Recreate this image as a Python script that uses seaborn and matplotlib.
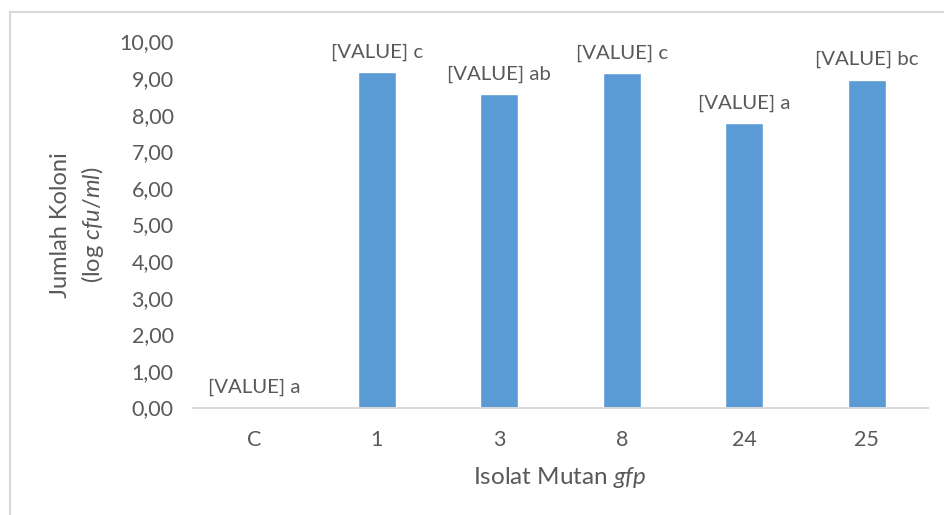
import pandas as pd
import seaborn as sns
import matplotlib.pyplot as plt
from matplotlib.patches import Rectangle
from matplotlib.ticker import FuncFormatter

# data
isolat = ["C", "1", "3", "8", "24", "25"]
koloni = [0.0, 9.17, 8.57, 9.13, 7.78, 8.96]
notasi = ["a", "c", "ab", "c", "a", "bc"]

df = pd.DataFrame({"isolat": isolat, "koloni": koloni})

sns.set_style("white")
plt.rcParams["font.family"] = ["Lato", "DejaVu Sans"]
plt.rcParams["mathtext.fontset"] = "custom"
plt.rcParams["mathtext.it"] = "Lato:italic"
plt.rcParams["mathtext.rm"] = "Lato"

grey = "#595959"

fig = plt.figure(figsize=(9.44, 5.15), dpi=100)
ax = fig.add_axes([193 / 944, 1 - 407.5 / 515, 735 / 944, 366 / 515])

sns.barplot(data=df, x="isolat", y="koloni", order=isolat, color="#5B9BD5",
            width=0.31, saturation=1, ax=ax)

for i, (v, n) in enumerate(zip(koloni, notasi)):
    ax.annotate(f"[VALUE] {n}", (i, v), xytext=(0, 8), textcoords="offset points",
                ha="center", va="bottom", fontsize=14.7, color=grey)

ax.set_ylim(0, 10)
ax.set_xlim(-0.5, 5.5)
ax.set_yticks(range(0, 11))
ax.yaxis.set_major_formatter(FuncFormatter(lambda v, p: f"{v:.2f}".replace(".", ",")))
ax.tick_params(axis="both", length=0, labelsize=15.5, labelcolor=grey)
ax.tick_params(axis="x", pad=16)
ax.tick_params(axis="y", pad=14)

for s in ["top", "right", "left"]:
    ax.spines[s].set_visible(False)
ax.spines["bottom"].set_color("#d9d9d9")
ax.spines["bottom"].set_linewidth(1.4)

ax.set_xlabel("")
ax.set_ylabel("")
fig.text(560 / 944, 1 - 477 / 515, r"Isolat Mutan $\mathit{gfp}$", ha="center", va="center",
         fontsize=17.5, color=grey)
fig.text(61 / 944, 1 - 225 / 515, "Jumlah Koloni", rotation=90,
         ha="center", va="center", fontsize=17, color=grey)
fig.text(93 / 944, 1 - 225 / 515, r"(log $\mathit{cfu/ml}$)", rotation=90,
         ha="center", va="center", fontsize=17, color=grey)

# chart area border (cut off at the right and bottom in the original)
fig.patches.append(Rectangle((10 / 944, -0.1), 1.2, 1 - 12 / 515 + 0.1, transform=fig.transFigure,
                             fill=False, edgecolor="#d9d9d9", linewidth=1.5))

fig.savefig("out.png", dpi=100)
